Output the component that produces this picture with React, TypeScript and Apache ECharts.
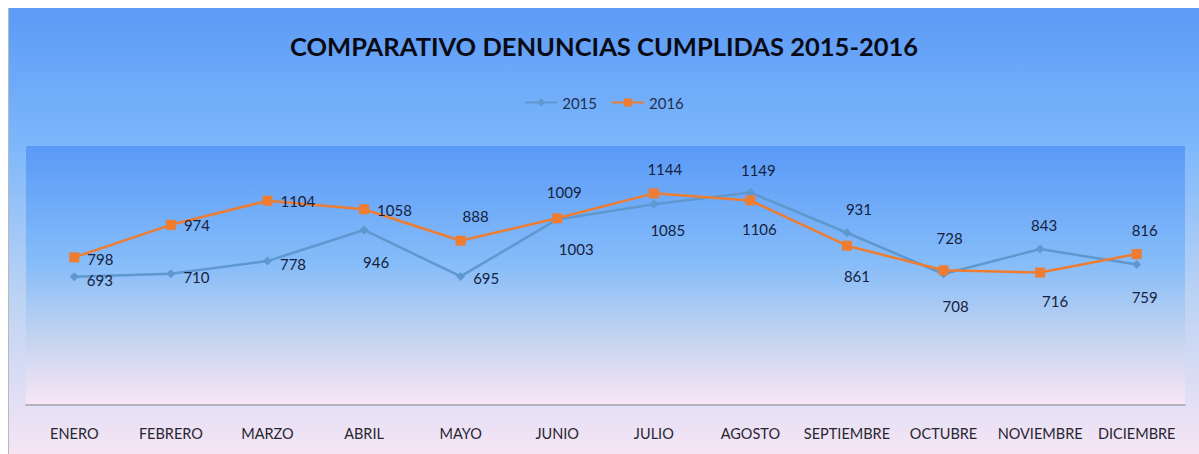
import React, { useEffect, useRef } from "react";
import * as echarts from "echarts";

const categories = ["ENERO", "FEBRERO", "MARZO", "ABRIL", "MAYO", "JUNIO", "JULIO", "AGOSTO", "SEPTIEMBRE", "OCTUBRE", "NOVIEMBRE", "DICIEMBRE"];
const values2015 = [693, 710, 778, 946, 695, 1003, 1085, 1149, 931, 708, 843, 759];
const values2016 = [798, 974, 1104, 1058, 888, 1009, 1144, 1106, 861, 728, 716, 816];
const seriesNames = ["2015", "2016"];
const titleText = "COMPARATIVO DENUNCIAS CUMPLIDAS 2015-2016";

// label placement styles (position, offset) per point
const labelPos2015: [string, number[]][] = [
  ["right", [0, 3]], ["right", [0, 3]], ["right", [0, 3]], ["bottom", [12, 12]],
  ["right", [0, 2]], ["bottom", [19, 10]], ["bottom", [14, 6]], ["top", [8, -2]],
  ["top", [12, -4]], ["bottom", [12, 12]], ["top", [4, -4]], ["bottom", [8, 12]],
];
const labelPos2016: [string, number[]][] = [
  ["right", [0, 2]], ["right", [0, 0]], ["right", [0, 0]], ["right", [0, 1]],
  ["top", [15, -4]], ["top", [7, -6]], ["top", [11, -4]], ["bottom", [9, 8]],
  ["bottom", [10, 10]], ["top", [6, -12]], ["bottom", [15, 8]], ["top", [8, -4]],
];

const FONT = "Lato, 'Open Sans', sans-serif";

export default function App() {
  const ref = useRef<HTMLDivElement>(null);
  useEffect(() => {
    if (!ref.current) return;
    const chart = echarts.init(ref.current, null, { renderer: "svg" });
    const mk = (vals: number[], pos: [string, number[]][]) =>
      vals.map((v, i) => ({
        value: v,
        label: { position: pos[i][0] as any, offset: pos[i][1] },
      }));
    chart.setOption({
      animation: false,
      backgroundColor: new echarts.graphic.LinearGradient(0, 0, 0, 1, [
        { offset: 0, color: "#5b9af6" },
        { offset: 0.3, color: "#7cb7fb" },
        { offset: 0.65, color: "#bcd3f3" },
        { offset: 1, color: "#f6e5f5" },
      ]),
      title: {
        text: titleText,
        left: "center",
        top: 20,
        textStyle: { fontFamily: FONT, fontWeight: "bold", fontSize: 25.5, color: "#0a0a14" },
      },
      legend: {
        top: 82,
        left: "center",
        itemWidth: 32,
        itemHeight: 10,
        itemGap: 14,
        textStyle: { fontFamily: FONT, fontSize: 15, color: "#1f2f4f" },
        data: seriesNames,
      },
      grid: {
        left: 17,
        right: 14,
        top: 138,
        bottom: 49,
        show: true,
        borderWidth: 0,
        backgroundColor: new echarts.graphic.LinearGradient(0, 0, 0, 1, [
          { offset: 0, color: "#5a9af7" },
          { offset: 0.45, color: "#85bcf9" },
          { offset: 0.75, color: "#c5d4ef" },
          { offset: 1, color: "#f9e6f6" },
        ]),
      },
      xAxis: {
        type: "category",
        data: categories,
        boundaryGap: true,
        axisLine: { lineStyle: { color: "#a3a3ab", width: 1.5 } },
        axisTick: { show: false },
        axisLabel: { interval: 0, fontFamily: FONT, fontSize: 14.5, color: "#262630", margin: 21 },
      },
      yAxis: {
        type: "value",
        min: 0,
        max: 1400,
        show: false,
        splitLine: { show: false },
      },
      series: [
        {
          name: seriesNames[0],
          type: "line",
          data: mk(values2015, labelPos2015),
          symbol: "diamond",
          symbolSize: 9,
          lineStyle: { color: "#5f97cf", width: 2.5 },
          itemStyle: { color: "#5f97cf" },
          label: { show: true, fontFamily: FONT, fontSize: 15, color: "#15223f", distance: 8 },
          z: 2,
        },
        {
          name: seriesNames[1],
          type: "line",
          data: mk(values2016, labelPos2016),
          symbol: "rect",
          symbolSize: 10,
          lineStyle: { color: "#ee7d31", width: 2.5 },
          itemStyle: { color: "#ee7d31" },
          label: { show: true, fontFamily: FONT, fontSize: 15, color: "#15223f", distance: 8 },
          z: 3,
        },
      ],
    });
    return () => chart.dispose();
  }, []);
  return (
    <div
      ref={ref}
      style={{ position: "absolute", left: 8, top: 8, width: 1191, height: 446, borderLeft: "1px solid #b8b8c0", boxSizing: "border-box" }}
    />
  );
}
